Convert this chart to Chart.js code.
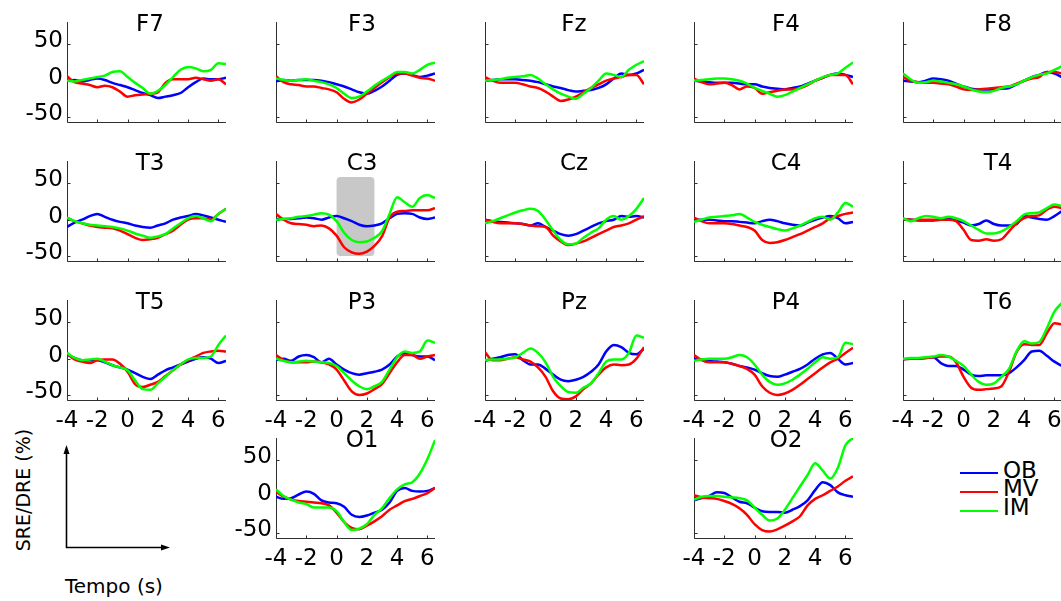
<!DOCTYPE html>
<html><head><meta charset="utf-8">
<script src="https://cdn.jsdelivr.net/npm/chart.js@4"></script>
<style>
html,body{margin:0;padding:0;width:1061px;height:601px;overflow:hidden;background:#fff;}
canvas{position:absolute;}
.lbl{position:absolute;font-family:"DejaVu Sans",sans-serif;color:#000;white-space:nowrap;}
</style></head><body>
<svg id="arrows" width="1061" height="601" style="position:absolute;left:0;top:0" xmlns="http://www.w3.org/2000/svg">
  <line x1="66.5" y1="548" x2="66.5" y2="449" stroke="#000" stroke-width="1.6"/>
  <polygon points="66.5,445 63.5,454 69.5,454" fill="#000"/>
  <line x1="66" y1="547.5" x2="166" y2="547.5" stroke="#000" stroke-width="1.6"/>
  <polygon points="170,547.5 161,544.5 161,550.5" fill="#000"/>
</svg>
<div class="lbl" style="left:23px;top:490px;font-size:19px;line-height:19px;transform:translate(-50%,-50%) rotate(-90deg);">SRE/DRE (%)</div>
<div class="lbl" style="left:65px;top:576px;font-size:20px;line-height:20px;">Tempo (s)</div>
<div id="legend"></div>
<script>
// ---- data ----
const t = [-4,-3.5,-3,-2.5,-2,-1.5,-1,-0.5,0,0.5,1,1.5,2,2.5,3,3.5,4,4.5,5,5.5,6,6.5];
const xTicks = [-4,-2,0,2,4,6];
const yTicks = [-50,0,50];
const seriesNames = ['OB','MV','IM'];
const seriesColors = ['#0000ff','#ff0000','#00ff00'];

const F7_OB = [0,1,-1,1,3,1,-3,-6,-9,-13,-17,-20,-24,-22,-20,-17,-9,-2,3,2,2,4];
const F7_MV = [6,-2,-4,-6,-9,-7,-9,-15,-22,-20,-19,-18,-16,-3,2,2,2,4,2,0,2,-5];
const F7_IM = [0,-1,1,3,5,7,12,13,5,-3,-10,-18,-14,-6,5,15,19,17,13,15,24,23];

const F3_OB = [-1,1,0,1,1,1,0,-2,-5,-8,-12,-16,-18,-14,-8,0,8,10,8,5,7,10];
const F3_MV = [6,-2,-5,-6,-8,-8,-10,-12,-16,-25,-30,-26,-18,-10,-2,5,10,10,7,4,3,0];
const F3_IM = [3,1,0,1,2,0,-2,-5,-10,-18,-24,-22,-15,-7,0,6,12,12,10,15,22,25];

const Fz_OB = [0,1,2,2,2,1,0,-2,-5,-8,-10,-13,-15,-14,-13,-10,-5,3,10,8,10,15];
const Fz_MV = [5,0,-3,-3,-3,-5,-8,-10,-15,-22,-28,-26,-22,-16,-10,-5,0,3,5,8,8,-5];
const Fz_IM = [0,1,2,4,5,6,8,3,-5,-12,-18,-22,-25,-18,-10,0,10,8,5,15,22,27];

const F4_OB = [0,-1,-2,-3,-3,-3,-4,-5,-5,-8,-10,-11,-12,-10,-8,-4,0,4,8,10,8,5];
const F4_MV = [3,-2,-5,-4,-3,-6,-12,-8,-10,-18,-16,-14,-12,-12,-10,-6,0,4,8,8,8,-5];
const F4_IM = [0,1,2,3,3,2,0,-4,-10,-14,-18,-22,-20,-15,-10,-5,0,5,8,10,18,25];

const F8_OB = [0,-1,-2,0,3,2,0,-4,-8,-11,-12,-12,-12,-11,-10,-5,0,5,8,12,10,5];
const F8_MV = [5,0,-2,-3,-3,-4,-5,-8,-12,-13,-12,-11,-10,-9,-8,-4,0,3,5,12,12,10];
const F8_IM = [10,2,-3,-2,0,-1,-3,-5,-8,-12,-15,-16,-14,-10,-8,-5,0,5,8,10,15,20];

const T3_OB = [-10,-4,0,5,8,4,0,-3,-5,-8,-10,-11,-8,-5,0,3,5,8,6,3,0,-3];
const T3_MV = [3,-2,-5,-8,-10,-11,-12,-15,-20,-25,-28,-27,-25,-20,-15,-7,0,2,2,0,8,15];
const T3_IM = [3,-2,-5,-7,-8,-9,-10,-12,-15,-19,-22,-25,-23,-20,-12,-5,2,5,2,-2,8,15];

const C3_OB = [1,1,1,2,3,2,0,3,5,2,-2,-7,-9,-8,-5,2,8,9,8,3,1,3];
const C3_MV = [8,0,-5,-6,-7,-9,-8,-12,-22,-38,-45,-47,-44,-36,-23,3,11,12,13,13,13,16];
const C3_IM = [0,1,2,4,5,7,9,7,-2,-18,-28,-31,-30,-25,-16,8,31,24,18,30,34,30];
const C3_shadeX = [0, 2.5];
const C3_shadeY = [-50, 59];

const Cz_OB = [0,-2,-3,-4,-5,-6,-8,-5,-10,-15,-20,-22,-20,-15,-10,-5,-2,0,5,4,5,3];
const Cz_MV = [0,-3,-5,-5,-5,-6,-8,-9,-10,-22,-30,-35,-33,-30,-25,-20,-15,-10,-8,-5,0,5];
const Cz_IM = [-5,-2,2,6,10,13,15,12,0,-15,-28,-34,-33,-25,-18,-12,0,5,0,5,15,30];

const C4_OB = [0,0,0,-1,-2,-2,-3,-4,-5,-2,0,-2,-5,-7,-8,-4,0,3,5,2,-5,-3];
const C4_MV = [3,-2,-5,-5,-5,-6,-8,-10,-15,-28,-32,-31,-28,-24,-20,-15,-10,-5,2,5,8,10];
const C4_IM = [-3,0,3,4,5,6,8,3,-3,-7,-10,-13,-15,-12,-8,-3,2,4,0,10,23,18];

const T4_OB = [1,0,-1,-1,-1,0,1,-1,-4,-8,-6,-1,-6,-8,-8,-6,5,3,1,0,5,12];
const T4_MV = [1,0,0,0,0,0,0,-2,-14,-28,-29,-27,-29,-27,-16,-5,2,5,6,14,18,16];
const T4_IM = [2,-2,2,5,4,2,4,2,-2,-8,-14,-19,-19,-16,-10,-2,7,9,10,16,21,19];

const T5_OB = [6,1,-2,-2,-2,-5,-9,-12,-15,-20,-25,-28,-22,-16,-12,-8,-4,0,2,0,-6,-3];
const T5_MV = [7,-1,-4,-6,-2,-1,-1,-7,-18,-35,-39,-36,-32,-24,-16,-8,-2,3,8,10,11,10];
const T5_IM = [8,1,-2,-1,0,-4,-9,-12,-16,-30,-42,-43,-34,-25,-16,-8,-1,1,1,3,19,32];

const P3_OB = [-2,0,-3,3,5,2,-5,0,-8,-15,-20,-22,-20,-18,-15,-8,3,8,5,3,3,-2];
const P3_MV = [5,-2,-5,-5,-5,-4,-5,-8,-15,-30,-45,-50,-48,-42,-35,-20,-5,5,5,0,3,5];
const P3_IM = [0,-3,-5,-4,-3,-4,-5,-6,-10,-20,-30,-38,-42,-38,-32,-15,2,10,8,10,25,22];

const Pz_OB = [-3,0,2,5,6,-2,-8,-8,-14,-22,-29,-31,-29,-25,-18,-8,10,19,16,8,6,14];
const Pz_MV = [9,-2,-2,0,2,-1,-4,-12,-25,-45,-55,-56,-52,-42,-34,-22,-12,-8,-9,-8,0,16];
const Pz_IM = [-2,-1,-1,0,2,8,14,8,-5,-25,-38,-46,-47,-40,-34,-20,-4,-1,-1,8,32,29];

const P4_OB = [0,-1,-3,-4,-5,-7,-10,-12,-15,-20,-24,-25,-22,-18,-14,-8,0,6,8,0,-8,-6];
const P4_MV = [5,-2,-5,-5,-5,-7,-10,-14,-22,-38,-47,-50,-48,-43,-36,-28,-20,-12,-5,0,8,15];
const P4_IM = [-3,-1,0,0,0,2,5,2,-8,-22,-32,-36,-34,-29,-22,-14,-5,2,0,2,22,20];

const T6_OB = [-1,0,0,1,2,-6,-10,-10,-15,-22,-24,-23,-23,-23,-20,-12,-2,10,11,4,-4,-10];
const T6_MV = [-1,0,0,1,2,3,3,-5,-25,-40,-43,-42,-41,-38,-18,9,20,19,19,35,49,47];
const T6_IM = [0,1,1,2,3,5,3,-3,-10,-22,-32,-36,-34,-25,-14,10,24,21,23,42,65,77];

const O1_OB = [0,-3,-2,3,7,4,-5,-8,-9,-14,-25,-28,-26,-22,-18,-8,8,12,8,7,8,12];
const O1_MV = [7,0,-4,-6,-7,-8,-9,-12,-22,-35,-43,-45,-40,-34,-27,-18,-12,-6,-3,1,5,12];
const O1_IM = [10,1,-4,-8,-10,-15,-15,-15,-20,-35,-46,-44,-38,-25,-16,-2,10,17,20,32,52,78];

const O2_OB = [-5,-2,1,6,5,-1,-7,-9,-15,-20,-21,-21,-22,-18,-13,-5,9,20,16,6,2,0];
const O2_MV = [2,-1,-2,-3,-6,-10,-16,-25,-38,-46,-48,-45,-40,-34,-27,-12,-3,2,8,14,22,28];
const O2_IM = [-4,0,1,1,0,-1,-2,-5,-15,-25,-33,-30,-18,-2,14,30,46,36,25,40,71,81];

// ---- panel layout ----
const colLeft = [67,276,485,694,903];
const rowTop = [22,161,300,438];
const panels = [
  {name:'F7',c:0,r:0,s:[F7_OB,F7_MV,F7_IM],yl:true,xl:false},
  {name:'F3',c:1,r:0,s:[F3_OB,F3_MV,F3_IM],yl:false,xl:false},
  {name:'Fz',c:2,r:0,s:[Fz_OB,Fz_MV,Fz_IM],yl:false,xl:false},
  {name:'F4',c:3,r:0,s:[F4_OB,F4_MV,F4_IM],yl:false,xl:false},
  {name:'F8',c:4,r:0,s:[F8_OB,F8_MV,F8_IM],yl:false,xl:false},
  {name:'T3',c:0,r:1,s:[T3_OB,T3_MV,T3_IM],yl:true,xl:false},
  {name:'C3',c:1,r:1,s:[C3_OB,C3_MV,C3_IM],yl:false,xl:false,shade:{x:C3_shadeX,y:C3_shadeY}},
  {name:'Cz',c:2,r:1,s:[Cz_OB,Cz_MV,Cz_IM],yl:false,xl:false},
  {name:'C4',c:3,r:1,s:[C4_OB,C4_MV,C4_IM],yl:false,xl:false},
  {name:'T4',c:4,r:1,s:[T4_OB,T4_MV,T4_IM],yl:false,xl:false},
  {name:'T5',c:0,r:2,s:[T5_OB,T5_MV,T5_IM],yl:true,xl:true},
  {name:'P3',c:1,r:2,s:[P3_OB,P3_MV,P3_IM],yl:false,xl:true},
  {name:'Pz',c:2,r:2,s:[Pz_OB,Pz_MV,Pz_IM],yl:false,xl:true},
  {name:'P4',c:3,r:2,s:[P4_OB,P4_MV,P4_IM],yl:false,xl:true},
  {name:'T6',c:4,r:2,s:[T6_OB,T6_MV,T6_IM],yl:false,xl:true},
  {name:'O1',c:1,r:3,s:[O1_OB,O1_MV,O1_IM],yl:true,xl:true},
  {name:'O2',c:3,r:3,s:[O2_OB,O2_MV,O2_IM],yl:false,xl:true}
];

Chart.defaults.font.family = '"DejaVu Sans", sans-serif';
const AX = '#303030';
const axesPlugin = {
  id: 'matAxes',
  beforeDatasetsDraw(chart, args, opts) {
    const {ctx, chartArea: a, scales: {x, y}} = chart;
    ctx.save();
    if (opts.shade) {
      const x0 = x.getPixelForValue(opts.shade.x[0]), x1 = x.getPixelForValue(opts.shade.x[1]);
      const y0 = y.getPixelForValue(opts.shade.y[1]), y1 = y.getPixelForValue(opts.shade.y[0]);
      ctx.fillStyle = '#c8c8c8';
      ctx.beginPath();
      ctx.roundRect(x0, y0, x1 - x0, y1 - y0, 4);
      ctx.fill();
    }
    ctx.strokeStyle = AX;
    ctx.lineWidth = 1;
    const L = Math.round(a.left) + 0.5, B = Math.round(a.bottom) + 0.5;
    ctx.beginPath();
    ctx.moveTo(L, Math.round(a.top)); ctx.lineTo(L, B);
    ctx.lineTo(Math.round(a.right), B);
    for (const v of yTicks) { const p = Math.round(y.getPixelForValue(v)) + 0.5; ctx.moveTo(L, p); ctx.lineTo(L + 3, p); }
    for (const v of xTicks) { const p = Math.round(x.getPixelForValue(v)) + 0.5; ctx.moveTo(p, B); ctx.lineTo(p, B - 3); }
    ctx.stroke();
    ctx.restore();
  }
};

const YW = 60, PW = 159, PH = 100, TH = 8, XH = 40, CH = TH + PH + XH;
const tickFont = {size: 23, family: '"DejaVu Sans", sans-serif'};
for (const p of panels) {
  const RW = 67 + 6 * p.c;          // right spacer so the title centre sits like the original
  const CW = YW + PW + RW;
  const cv = document.createElement('canvas');
  cv.width = CW; cv.height = CH;
  cv.style.left = (colLeft[p.c] - YW) + 'px';
  cv.style.top = (rowTop[p.r] - TH) + 'px';
  document.body.appendChild(cv);
  const datasets = p.s.map((vals, i) => ({
    label: seriesNames[i],
    data: t.map((tv, k) => ({x: tv, y: vals[k]})),
    borderColor: seriesColors[i],
    backgroundColor: seriesColors[i],
    borderWidth: 2.5,
    pointRadius: 0,
    cubicInterpolationMode: 'monotone',
    fill: false,
    yAxisID: 'y',
    order: 3 - i
  }));
  new Chart(cv, {
    type: 'line',
    data: {datasets},
    options: {
      responsive: false, animation: false, devicePixelRatio: 1,
      layout: {autoPadding: false, padding: 0},
      plugins: {
        legend: {display: false}, tooltip: {enabled: false},
        title: {display: true, text: p.name, color: '#000',
          font: {size: 23, lineHeight: 1, weight: 'normal'}, padding: {top: 0, bottom: -15}},
        matAxes: {shade: p.shade || null}
      },
      scales: {
        x: {type: 'linear', min: -4, max: 6.5,
          afterBuildTicks: s => { s.ticks = xTicks.map(v => ({value: v})); },
          afterFit: s => { s.height = XH; s.paddingLeft = 0; s.paddingRight = 0; },
          grid: {display: false, drawTicks: false}, border: {display: false},
          ticks: {display: p.xl, padding: 7, color: '#000', font: tickFont, autoSkip: false, maxRotation: 0}},
        y: {type: 'linear', min: -57, max: 81, position: 'left',
          afterBuildTicks: s => { s.ticks = yTicks.map(v => ({value: v})); },
          afterFit: s => { s.width = YW; s.paddingTop = 0; s.paddingBottom = 0; },
          grid: {display: false, drawTicks: false}, border: {display: false},
          ticks: {display: p.yl, padding: 4, labelOffset: -3, color: '#000', font: tickFont}},
        spacer: {type: 'linear', position: 'right', display: true,
          afterFit: s => { s.width = RW; s.paddingTop = 0; s.paddingBottom = 0; },
          grid: {display: false, drawTicks: false}, border: {display: false},
          ticks: {display: false}}
      }
    },
    plugins: [axesPlugin]
  });
}

// legend (HTML)
const lg = document.getElementById('legend');
const legendLineY = [472.5, 491.5, 510.5];
const legendTextTop = [459, 477, 496];
seriesNames.forEach((n, i) => {
  const ln = document.createElement('div');
  ln.style.cssText = `position:absolute;left:960px;top:${legendLineY[i]-1}px;width:38px;height:2px;background:${seriesColors[i]}`;
  lg.appendChild(ln);
  const tx = document.createElement('div');
  tx.className = 'lbl';
  tx.style.cssText = `left:1003px;top:${legendTextTop[i]}px;font-size:23px;line-height:23px;`;
  tx.textContent = n;
  lg.appendChild(tx);
});
</script>
</body></html>
